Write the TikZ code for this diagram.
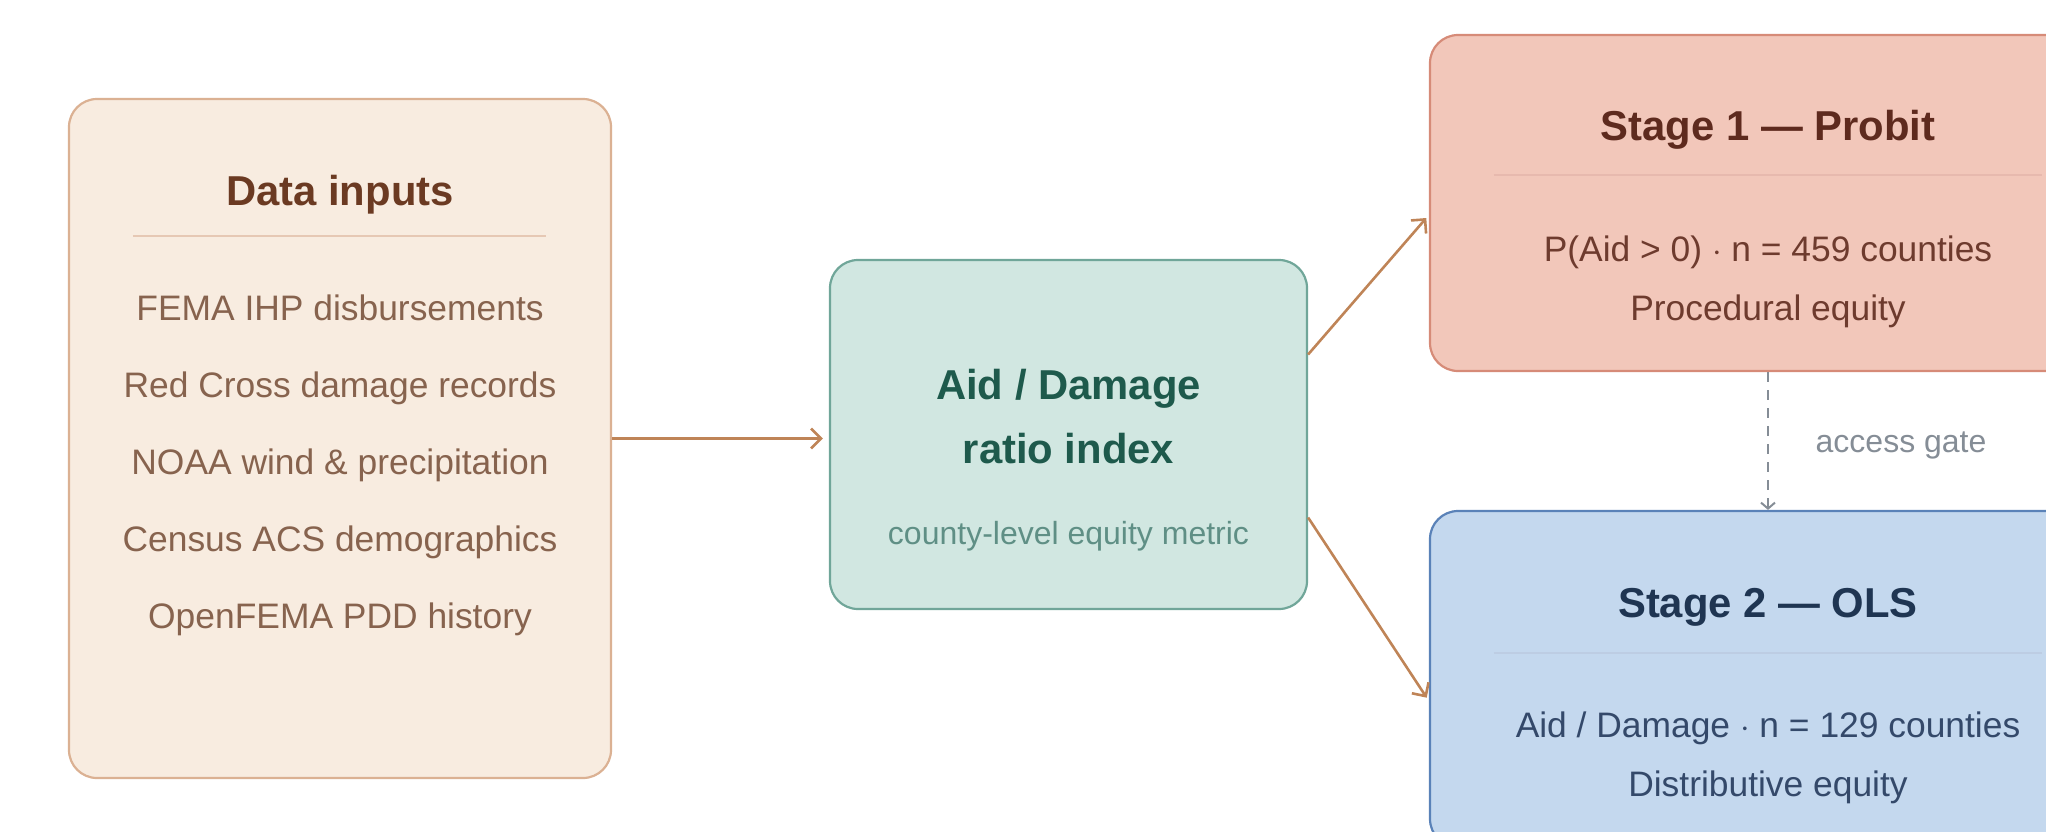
\documentclass[tikz,border=0pt]{standalone}
\usepackage{fontspec}
\setmainfont{Liberation Sans}
\usetikzlibrary{calc,positioning,arrows.meta}

\definecolor{inFill}{HTML}{F8ECE0}
\definecolor{inLine}{HTML}{DBB193}
\definecolor{inHead}{HTML}{6B3A22}
\definecolor{inText}{HTML}{87634E}
\definecolor{ratFill}{HTML}{D1E7E1}
\definecolor{ratLine}{HTML}{70A699}
\definecolor{ratHead}{HTML}{1E5A4C}
\definecolor{ratText}{HTML}{5F8F85}
\definecolor{prFill}{HTML}{F2C7BA}
\definecolor{prLine}{HTML}{D68B78}
\definecolor{prHead}{HTML}{5E2A1E}
\definecolor{prText}{HTML}{6E3B2E}
\definecolor{olsFill}{HTML}{C4D8EE}
\definecolor{olsLine}{HTML}{5A82B8}
\definecolor{olsHead}{HTML}{1F3552}
\definecolor{olsText}{HTML}{34496A}
\definecolor{flowc}{HTML}{BF8457}
\definecolor{gatec}{HTML}{858D96}

\begin{document}
\begin{tikzpicture}[x=0.5pt, y=-0.5pt,
    panel/.style={draw, line width=1.1pt, rounded corners=14pt, inner sep=0pt},
    headtxt/.style={font=\bfseries\fontsize{20.9}{32}\selectfont, align=center},
    bodytxt/.style={font=\fontsize{17.7}{29.5}\selectfont, align=center},
    flow/.style={draw=flowc, line width=1.3pt, -{Straight Barb[length=5pt,width=10pt]}},
  ]
  \useasboundingbox (0,0) rectangle (2046,831);
  \clip (0,0) rectangle (2046,831);

  % --- boxes ---
  \node[panel, draw=inLine, fill=inFill, minimum width=271pt, minimum height=339.5pt] (data) at (340,438.5) {};
  \node[panel, draw=ratLine, fill=ratFill, minimum width=238.5pt, minimum height=174.5pt] (ratio) at (1068.5,434.5) {};
  \node[panel, draw=prLine, fill=prFill, minimum width=338pt, minimum height=168pt] (probit) at (1768,203) {};
  \node[panel, draw=olsLine, fill=olsFill, minimum width=338pt, minimum height=168pt] (ols) at (1768,679) {};

  % --- data inputs ---
  \node[headtxt, text=inHead] (datahead) at ($(data.north)+(0,97)$) {Data inputs};
  \draw[inLine!70, line width=0.6pt] ($(data.north west)+(65,138)$) -- ($(data.north east)+(-66,138)$);
  \node[font=\fontsize{17.7}{38.5}\selectfont, align=center, text=inText] (datalist) at ($(data.north)+(0,367)$)
    {FEMA IHP disbursements\\Red Cross damage records\\NOAA wind \& precipitation\\Census ACS demographics\\OpenFEMA PDD history};

  % --- ratio index ---
  \node[headtxt, text=ratHead] (rathead) at ($(ratio.north)+(0,158)$) {Aid / Damage\\ratio index};
  \node[font=\fontsize{16}{20}\selectfont, text=ratText] (ratsub) at ($(ratio.north)+(0,277)$) {county-level equity metric};

  % --- stage 1 ---
  \node[headtxt, text=prHead] (prhead) at ($(probit.north)+(0,96)$) {Stage 1 --- Probit};
  \draw[prLine!60, line width=0.6pt] ($(probit.north west)+(65,141)$) -- ($(probit.north east)+(-65,141)$);
  \node[bodytxt, text=prText] (prbody) at ($(probit.north)+(0,248)$) {P(Aid > 0) $\cdot$ n = 459 counties\\Procedural equity};

  % --- stage 2 ---
  \node[headtxt, text=olsHead] (olshead) at ($(ols.north)+(0,97)$) {Stage 2 --- OLS};
  \draw[olsLine!40, line width=0.6pt] ($(ols.north west)+(65,143)$) -- ($(ols.north east)+(-65,143)$);
  \node[bodytxt, text=olsText] (olsbody) at ($(ols.north)+(0,248)$) {Aid / Damage $\cdot$ n = 129 counties\\Distributive equity};

  % --- connectors ---
  \draw[flow, shorten >=3pt] (data.east) -- (data.east -| ratio.west);
  \draw[flow, shorten >=2pt] ($(ratio.east)+(0,-80)$) -- ($(probit.west)+(0,12)$);
  \draw[flow, shorten >=2pt] ($(ratio.east)+(0,83)$) -- ($(ols.west)+(0,22)$);
  \draw[gatec, line width=1pt, dash pattern=on 5pt off 4pt, -{Straight Barb[length=3pt,width=7pt]}]
    (probit.south) -- (ols.north)
    node[midway, right=20pt, yshift=-2pt, text=gatec, font=\fontsize{16}{20}\selectfont] (gatelbl) {access gate};
\end{tikzpicture}
\end{document}
